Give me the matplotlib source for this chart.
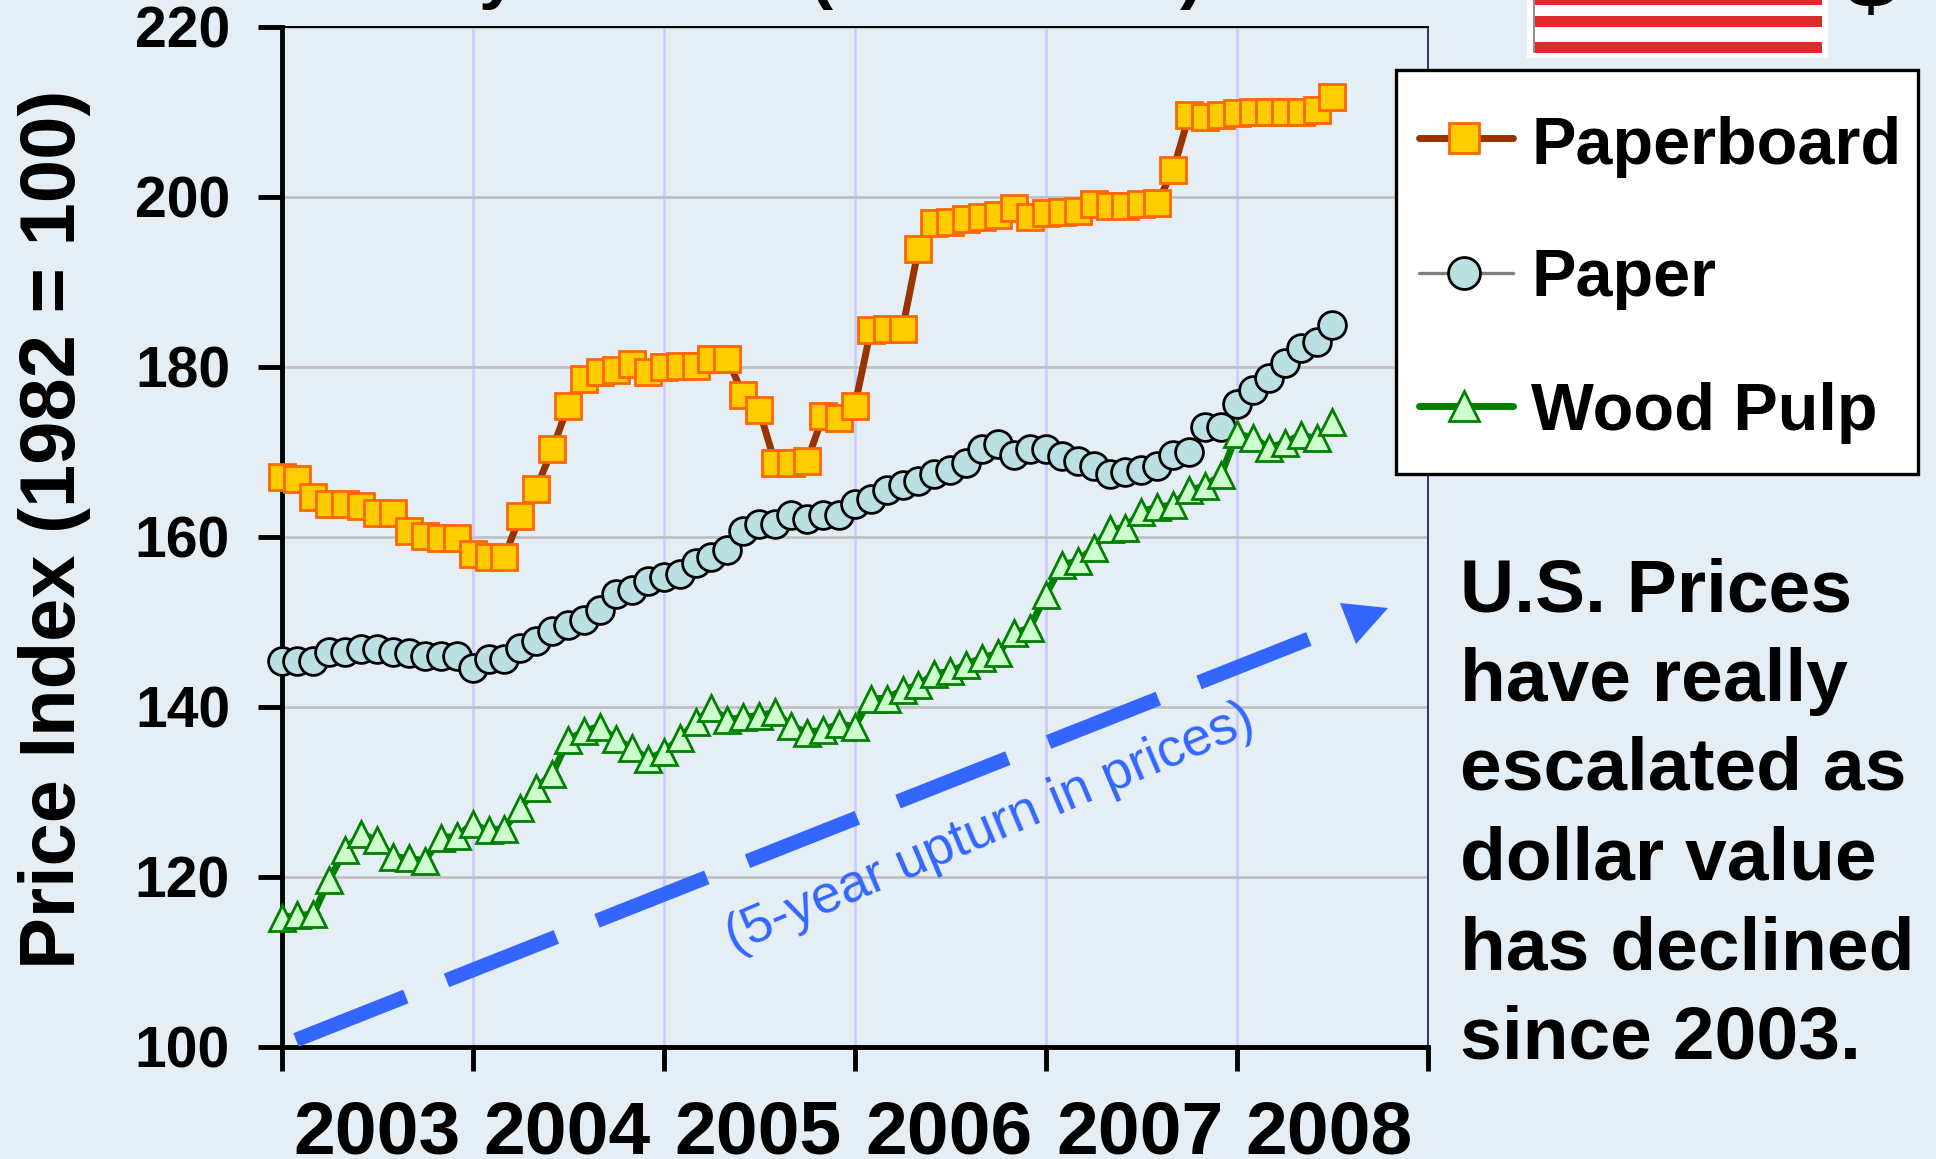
import numpy as np
import matplotlib
matplotlib.use('Agg')
import matplotlib.pyplot as plt
from matplotlib.patches import Rectangle, Polygon

plt.rcParams['font.family'] = ['Liberation Sans', 'DejaVu Sans']

# monthly index values, Jan 2003 - Jul 2008
paperboard = [167.1, 166.8, 164.7, 163.9, 163.9, 163.6, 162.8, 162.8, 160.7, 160.1, 159.9, 159.9,
              158.0, 157.7, 157.7, 162.5, 165.7, 170.3, 175.4, 178.6, 179.4, 179.7, 180.3, 179.4,
              180.0, 180.1, 180.1, 180.9, 181.0, 176.7, 174.9, 168.7, 168.7, 168.9, 174.2, 174.0,
              175.4, 184.3, 184.5, 184.5, 193.9, 196.9, 197.1, 197.4, 197.6, 197.9, 198.7, 197.6,
              198.1, 198.2, 198.4, 199.2, 199.0, 199.0, 199.2, 199.3, 203.2, 209.6, 209.4, 209.7,
              209.9, 210.0, 210.0, 210.0, 210.0, 210.2, 211.8]
paper = [145.4, 145.4, 145.4, 146.5, 146.5, 146.8, 146.8, 146.5, 146.3, 146.0, 146.0, 146.0,
         144.6, 145.6, 145.6, 147.0, 147.8, 149.0, 149.6, 150.2, 151.4, 153.3, 153.8, 154.8,
         155.3, 155.7, 156.9, 157.6, 158.5, 160.7, 161.5, 161.5, 162.6, 162.1, 162.6, 162.6,
         163.9, 164.5, 165.5, 166.1, 166.6, 167.4, 167.9, 168.7, 170.3, 170.9, 169.7, 170.3,
         170.3, 169.5, 169.0, 168.4, 167.4, 167.6, 167.9, 168.4, 169.6, 170.0, 173.0, 173.0,
         175.7, 177.3, 178.7, 180.5, 182.2, 182.9, 185.0]
wood_pulp = [115.2, 115.5, 115.6, 119.7, 123.2, 125.1, 124.3, 122.4, 122.2, 121.9, 124.6, 124.8,
             126.2, 125.5, 125.7, 128.1, 130.5, 132.1, 136.1, 137.2, 137.7, 136.2, 135.2, 133.9,
             134.7, 136.3, 138.2, 139.9, 138.5, 138.8, 139.0, 139.4, 137.8, 137.0, 137.3, 138.0,
             137.7, 141.0, 141.0, 142.0, 142.6, 143.9, 144.2, 145.0, 145.8, 146.3, 148.7, 149.3,
             153.2, 156.7, 157.2, 158.7, 160.9, 161.1, 163.0, 163.5, 163.8, 165.5, 166.0, 167.3,
             172.1, 171.7, 170.5, 171.1, 172.0, 171.6, 173.5]
months = np.arange(len(paperboard))

years = ['2003', '2004', '2005', '2006', '2007', '2008']
year_label_pos = [6, 17.95, 29.95, 41.9, 53.9, 65.8]
y_ticks = [100, 120, 140, 160, 180, 200, 220]
note_lines = ['U.S. Prices', 'have really', 'escalated as', 'dollar value', 'has declined', 'since 2003.']

W, H = 1936, 1159
BG = '#E5EEF4'
BLUE = '#3366FF'

fig = plt.figure(figsize=(W / 100, H / 100), dpi=100, facecolor=BG)
left, right, top, bottom = 281.5, 1428, 27, 1047
ax = fig.add_axes([left / W, 1 - bottom / H, (right - left) / W, (bottom - top) / H], facecolor=BG)

styles = [
    (paperboard, '#993300', 's', '#FFCC00', '#FF6600', 5, 19),
    (paper, '#808080', 'o', '#BBE0E3', '#000000', 2.4, 20),
    (wood_pulp, '#008000', '^', '#CCFFCC', '#008000', 5, 19),
]
for vals, lc, mk, mf, me, lw, ms in styles:
    ax.plot(months, vals, color=lc, lw=lw, marker=mk, mfc=mf, mec=me, mew=2, ms=ms,
            clip_on=False, zorder=3)

ax.set_xlim(0, 72)
ax.set_ylim(100, 220)
ax.set_yticks(y_ticks)
ax.set_xticks(np.arange(0, 73, 12))
ax.set_xticklabels([])
ax.set_xticks(year_label_pos, labels=years, minor=True)
ax.grid(True, axis='y', color='#C0C0C0', lw=2, zorder=1)
ax.grid(True, axis='x', color='#CCCCFF', lw=2, zorder=1)
ax.set_axisbelow(True)

ax.tick_params(axis='y', length=17, width=3.5, pad=20, labelsize=41)
ax.tick_params(axis='x', which='major', length=17, width=3.5)
ax.tick_params(axis='x', which='minor', length=0, pad=38, labelsize=54)
for lab in ax.get_yticklabels() + ax.get_xminorticklabels():
    lab.set_fontweight('bold')

ax.spines['left'].set_linewidth(3.5)
ax.spines['bottom'].set_linewidth(3.5)
ax.spines['top'].set_linewidth(1.4)
ax.spines['right'].set_linewidth(1.4)
ax.spines['right'].set_color('#333366')

# everything else is placed in picture pixels on an overlay
ov = fig.add_axes([0, 0, 1, 1], facecolor='none', zorder=5)
ov.set_xlim(0, W)
ov.set_ylim(H, 0)
ov.axis('off')

ov.text(75, 529, 'Price Index (1982 = 100)', rotation=90, ha='center', va='baseline',
        rotation_mode='anchor', fontsize=56, fontweight='bold')

# dashed trend arrow
ov.plot([296, 1310], [1040, 638.5], color=BLUE, lw=10.5, dashes=(8.1, 3.0), dash_capstyle='butt')
ov.add_patch(Polygon([(1340, 603), (1388, 608), (1356, 644)], closed=True, color=BLUE, lw=0))
ov.text(990, 829, '(5-year upturn in prices)', color=BLUE, fontsize=38.5, rotation=23,
        ha='center', va='center', rotation_mode='anchor')

# note on the right
for i, line in enumerate(note_lines):
    ov.text(1460, 611 + i * 89.5, line, fontsize=54, fontweight='bold', va='baseline')

# legend box
ov.add_patch(Rectangle((1396, 70), 522, 404, fc='white', ec='black', lw=2.4))
names = ['Paperboard', 'Paper', 'Wood Pulp']
line_y = [138, 273, 406]
text_y = [163.5, 295.5, 430.5]
for (vals, lc, mk, mf, me, lw, ms), name, ly, ty in zip(styles, names, line_y, text_y):
    ov.plot([1419, 1513], [ly, ly], color=lc, lw=lw, solid_capstyle='round')
    ov.plot([1464], [ly], marker=mk, mfc=mf, mec=me, mew=2, ms=ms + 3)
    ov.text(1531, ty, name, fontsize=48, fontweight='bold', va='baseline')

# flag cut off by the top edge
ov.add_patch(Rectangle((1527, -5), 301, 63, fc='white', lw=0))
for y0, y1 in [(-5, 5), (16, 27), (42, 53)]:
    ov.add_patch(Rectangle((1533, y0), 289, y1 - y0, fc='#DD2A2A', lw=0))
ov.add_patch(Rectangle((1533, -5), 1.5, 58, fc='#909090', lw=0))

# bits of the title and the dollar sign that stay inside the picture
for x, ch in [(498, 'y'), (821, '('), (1192, ')')]:
    ov.text(x, -4, ch, fontsize=50, fontweight='bold', ha='center', va='baseline', clip_on=False)
ov.text(1871, 8, '$', fontsize=72, fontweight='bold', ha='center', va='baseline', clip_on=False)

fig.savefig('out.png', dpi=100, facecolor=BG)
